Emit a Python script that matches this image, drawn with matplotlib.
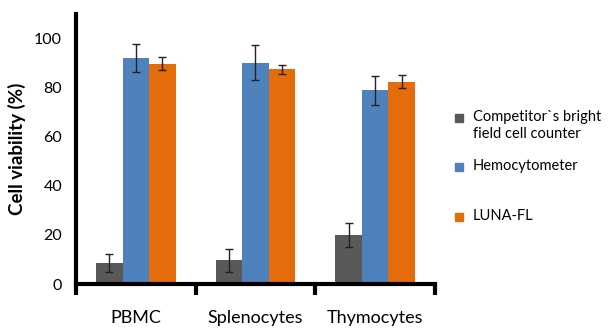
import matplotlib.pyplot as plt
import numpy as np
from matplotlib.patches import Rectangle

plt.rcParams['font.family'] = ['Lato', 'DejaVu Sans']

cells = ['PBMC', 'Splenocytes', 'Thymocytes']
methods = ['Competitor`s bright\nfield cell counter', 'Hemocytometer', 'LUNA-FL']
competitor = [8.6, 9.7, 19.9]
competitor_err = [3.6, 4.7, 5.0]
hemocytometer = [92.0, 90.2, 78.9]
hemocytometer_err = [5.6, 7.2, 6.0]
luna = [89.8, 87.4, 82.5]
luna_err = [2.5, 1.7, 2.6]

colors = ['#595959', '#4f81bd', '#e46c0a']

fig = plt.figure(figsize=(6.15, 3.29), dpi=100)
ax = fig.add_axes([76 / 615, 1 - 284 / 329, 359 / 615, 270 / 329])

x = np.arange(len(cells))
w = 0.222
series = [(competitor, competitor_err), (hemocytometer, hemocytometer_err), (luna, luna_err)]
for i, (vals, errs) in enumerate(series):
    ax.bar(x + (i - 1) * w, vals, w, color=colors[i], zorder=2)
    ax.errorbar(x + (i - 1) * w, vals, yerr=errs, fmt='none', ecolor='#222222',
                elinewidth=1, capsize=3, capthick=1, zorder=3)

ax.set_xlim(-0.5, 2.5)
ax.set_ylim(0, 110)
ax.set_yticks([0, 20, 40, 60, 80, 100])
ax.set_xticks(x)
ax.set_xticklabels(cells, fontsize=13)
ax.set_xticks([-0.5, 0.5, 1.5, 2.5], minor=True)
ax.tick_params(axis='x', which='major', length=0, pad=19)
ax.tick_params(axis='x', which='minor', length=8, width=3, direction='out')
ax.tick_params(axis='y', length=0, pad=10, labelsize=11.5)
for s in ['top', 'right']:
    ax.spines[s].set_visible(False)
for s in ['left', 'bottom']:
    ax.spines[s].set_linewidth(3)
ax.set_ylabel('Cell viability (%)', fontsize=13.5, fontweight='bold', labelpad=6)

# legend drawn by hand so the entry gaps stay uneven
legend_y = [118, 167, 217]
for c, label, ly in zip(colors, methods, legend_y):
    fig.patches.append(Rectangle((455 / 615, 1 - (ly + 4) / 329), 8 / 615, 8 / 329,
                                 transform=fig.transFigure, color=c))
    fig.text(473 / 615, 1 - (ly - 8) / 329, label, fontsize=10.5, va='top', ha='left',
             linespacing=1.3)

fig.savefig('out.png', dpi=100)
